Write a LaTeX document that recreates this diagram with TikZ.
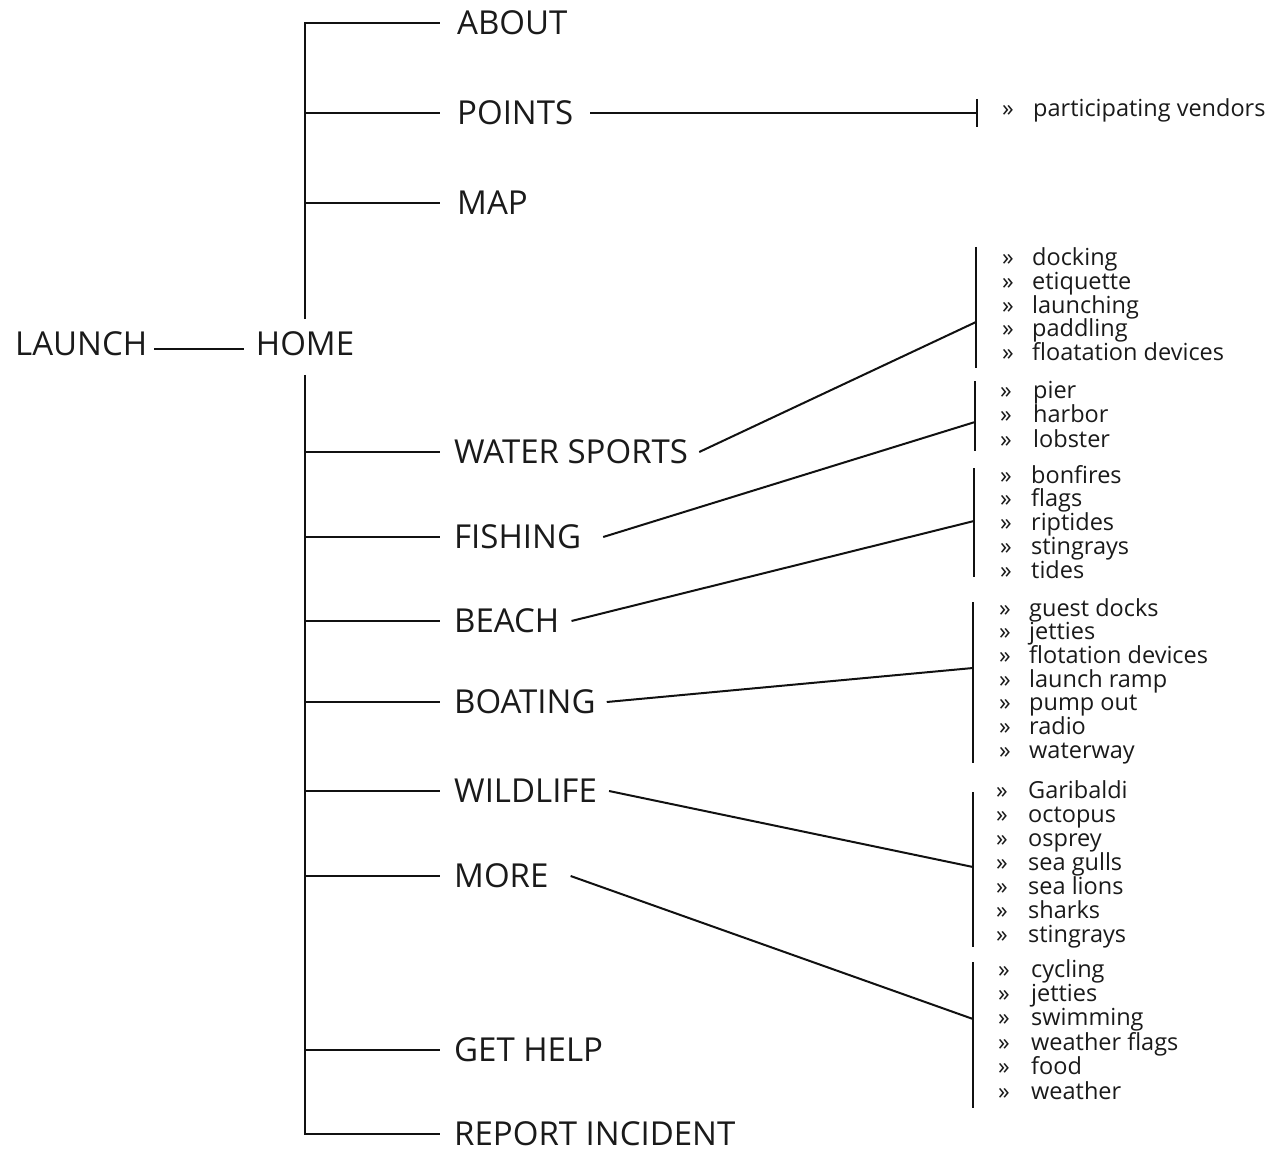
\documentclass[tikz,border=0pt]{standalone}
\usepackage{fontspec}
\setmainfont{Open Sans}
\definecolor{ink}{HTML}{1A1A1A}
\definecolor{lc}{HTML}{111111}
\begin{document}
\begin{tikzpicture}[x=1pt,y=-1pt,
  lab/.style={font=\fontsize{33}{40}\selectfont, text=ink, inner sep=0pt, anchor=west},
  itm/.style={font=\fontsize{23.5}{24}\selectfont, text=ink, inner sep=0pt, anchor=base west},
  ln/.style={line width=2pt, draw=lc}]
\useasboundingbox (0,0) rectangle (1274,1150);

% main labels
\node[lab] (launch) at (15,343.5) {LAUNCH};
\node[lab, anchor=center, inner ysep=12pt] (home) at (305,343.5) {HOME};
\node[lab] (about)    at (457,23)   {ABOUT};
\node[lab] (points)   at (457,113)  {POINTS};
\node[lab] (map)      at (457,203)  {MAP};
\node[lab] (ws)       at (454,452)  {WATER SPORTS};
\node[lab] (fishing)  at (454,537)  {FISHING};
\node[lab] (beach)    at (454,621)  {BEACH};
\node[lab] (boating)  at (454,702)  {BOATING};
\node[lab] (wildlife) at (454,791)  {WILDLIFE};
\node[lab] (more)     at (454,876)  {MORE};
\node[lab] (gethelp)  at (454,1050) {GET HELP};
\node[lab] (report)   at (454,1133.5) {REPORT INCIDENT};
\coordinate (bx) at (440,0);

% launch - home
\draw[ln] ([xshift=7pt,yshift=-5.5pt]launch.east) -- ([xshift=-12pt,yshift=-5.5pt]home.west);

% trunk and branches
\draw[ln] (home.north) -- (home.north |- about.west) -- (about.west -| bx);
\draw[ln] ([yshift=-7pt]home.south) -- (home.south |- report.west) -- (report.west -| bx);
\foreach \n in {points,map,ws,fishing,beach,boating,wildlife,more,gethelp}
  \draw[ln] (\n.west -| home.north) -- (\n.west -| bx);

% points -> participating vendors
\coordinate (pj) at (977,113);
\coordinate (pa) at (977,99);
\coordinate (pb) at (977,127);
\draw[ln] ([xshift=17pt]points.east) -- (pj);
\draw[ln] (pa) -- (pb);
\node[itm] (pvq) at (1002,117) {»};
\node[itm] (pvt) at (1033,117) {participating vendors};

% group 1: water sports
\coordinate (g1a) at (976,247);
\coordinate (g1b) at (976,368);
\coordinate (g1j) at (976,322);
\draw[ln] (g1a) -- (g1b);
\draw[ln] ([xshift=11pt]ws.east) -- (g1j);
\foreach \t [count=\i from 0] in {docking,etiquette,launching,paddling,floatation devices}{
  \node[itm] (g1q\i) at (1002,266+23.6*\i) {»};
  \node[itm] (g1t\i) at (1032,266+23.6*\i) {\t};
}

% group 2: fishing
\coordinate (g2a) at (975,381);
\coordinate (g2b) at (975,451);
\coordinate (g2j) at (975,422);
\draw[ln] (g2a) -- (g2b);
\draw[ln] ([xshift=22pt]fishing.east) -- (g2j);
\foreach \t [count=\i from 0] in {pier,harbor,lobster}{
  \node[itm] (g2q\i) at (1000,398+24.5*\i) {»};
  \node[itm] (g2t\i) at (1033,398+24.5*\i) {\t};
}

% group 3: beach
\coordinate (g3a) at (974,468);
\coordinate (g3b) at (974,577);
\coordinate (g3j) at (974,521);
\draw[ln] (g3a) -- (g3b);
\draw[ln] ([xshift=12pt]beach.east) -- (g3j);
\foreach \t [count=\i from 0] in {bonfires,flags,riptides,stingrays,tides}{
  \node[itm] (g3q\i) at (1000,483+23.8*\i) {»};
  \node[itm] (g3t\i) at (1031,483+23.8*\i) {\t};
}

% group 4: boating
\coordinate (g4a) at (973,602);
\coordinate (g4b) at (973,763);
\coordinate (g4j) at (973,668);
\draw[ln] (g4a) -- (g4b);
\draw[ln] ([xshift=11pt]boating.east) -- (g4j);
\foreach \t [count=\i from 0] in {guest docks,jetties,flotation devices,launch ramp,pump out,radio,waterway}{
  \node[itm] (g4q\i) at (999,616+23.7*\i) {»};
  \node[itm] (g4t\i) at (1029,616+23.7*\i) {\t};
}

% group 5: wildlife
\coordinate (g5a) at (973,792);
\coordinate (g5b) at (973,947);
\coordinate (g5j) at (973,867);
\draw[ln] (g5a) -- (g5b);
\draw[ln] ([xshift=12pt]wildlife.east) -- (g5j);
\foreach \t [count=\i from 0] in {Garibaldi,octopus,osprey,sea gulls,sea lions,sharks,stingrays}{
  \node[itm] (g5q\i) at (996,798+24*\i) {»};
  \node[itm] (g5t\i) at (1028,798+24*\i) {\t};
}

% group 6: more
\coordinate (g6a) at (973,962);
\coordinate (g6b) at (973,1108);
\coordinate (g6j) at (973,1019);
\draw[ln] (g6a) -- (g6b);
\draw[ln] ([xshift=22pt]more.east) -- (g6j);
\foreach \t [count=\i from 0] in {cycling,jetties,swimming,weather flags,food,weather}{
  \node[itm] (g6q\i) at (998,977+24.4*\i) {»};
  \node[itm] (g6t\i) at (1031,977+24.4*\i) {\t};
}
\end{tikzpicture}
\end{document}
